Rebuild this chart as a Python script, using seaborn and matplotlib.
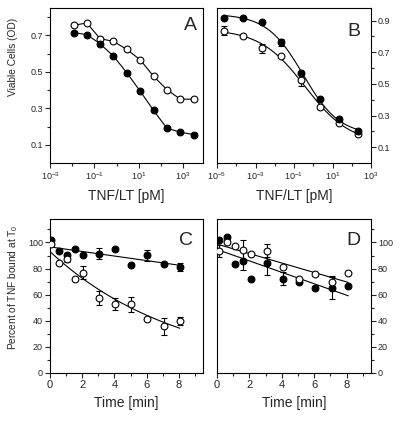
import numpy as np
import pandas as pd
import matplotlib
matplotlib.use("Agg")
import matplotlib.pyplot as plt
import matplotlib.ticker as mticker
import seaborn as sns

sns.set_style("ticks")
plt.rcParams['font.family'] = ['Liberation Sans', 'DejaVu Sans']
plt.rcParams['mathtext.default'] = 'regular'

# ---- panel A : dose response, points joined
conc_a = [0.0115, 0.046, 0.18, 0.73, 2.9, 11.7, 47, 186, 745, 2980]
a_filled = [0.715, 0.704, 0.654, 0.586, 0.495, 0.394, 0.288, 0.191, 0.169, 0.156]
a_open = [0.755, 0.768, 0.682, 0.667, 0.623, 0.566, 0.475, 0.403, 0.350, 0.350]

# ---- panel B : dose response with sigmoid fit
conc_b = [2.2e-5, 2.2e-4, 2.2e-3, 2.2e-2, 0.22, 2.2, 22, 220]
b_filled = [0.917, 0.915, 0.894, 0.762, 0.570, 0.405, 0.277, 0.200]
b_filled_err = [0.0, 0.0, 0.0, 0.02, 0.0, 0.0, 0.0, 0.0]
b_open = [0.836, 0.804, 0.725, 0.676, 0.526, 0.355, 0.255, 0.185]
b_open_err = [0.028, 0.0, 0.028, 0.0, 0.038, 0.0, 0.0, 0.0]

# ---- panel C : TNF bound vs time
time_c = [0.05, 0.55, 1.05, 1.55, 2.05, 3.05, 4.05, 5.05, 6.05, 7.05, 8.05]
c_filled = [102.0, 93.6, 90.2, 94.8, 90.2, 91.5, 94.8, 82.8, 90.2, 83.8, 81.5]
c_filled_err = [0, 0, 2, 0, 0, 4.5, 0, 0, 4, 0, 3]
c_open = [99.2, 84.6, 87.7, 71.8, 76.9, 57.7, 53.1, 52.6, 41.0, 35.9, 39.7]
c_open_err = [0, 0, 3, 0, 5, 5.4, 4.5, 5.6, 0, 6.4, 3]

# ---- panel D
time_d = [0.1, 0.6, 1.08, 1.58, 2.09, 3.08, 4.06, 5.07, 6.05, 7.08, 8.1]
d_filled = [101.8, 104.3, 83.8, 85.8, 72.3, 84.0, 72.3, 69.7, 64.8, 65.4, 66.6]
d_filled_err = [0, 0, 0, 7, 0, 9, 5, 0, 0, 8.5, 0]
d_open = [93.6, 100.0, 97.4, 94.3, 91.0, 93.6, 81.5, 71.8, 75.6, 69.7, 76.9]
d_open_err = [4.5, 0, 0, 7.7, 0, 5, 0, 0, 0, 4.5, 0]

lw = 0.8
ms = 24


def fit_4pl(x, y):
    # small least squares: grid over midpoint/slope, linear solve for top/bottom
    lx = np.log10(x)
    y = np.asarray(y)
    best = None
    for c in np.linspace(-3, 2, 201):
        for h in np.linspace(0.2, 1.5, 131):
            f = 1.0 / (1.0 + 10 ** (h * (lx - c)))
            A = np.column_stack([np.ones_like(f), f])
            coef, *_ = np.linalg.lstsq(A, y, rcond=None)
            err = np.sum((A @ coef - y) ** 2)
            if best is None or err < best[0]:
                best = (err, c, h, coef)
    _, c, h, coef = best
    xs = np.logspace(lx.min(), lx.max(), 200)
    ys = coef[0] + coef[1] / (1.0 + 10 ** (h * (np.log10(xs) - c)))
    return xs, ys


def draw_points(ax, x, y, err, filled):
    if err is not None:
        ax.errorbar(x, y, yerr=err, fmt='none', ecolor='black', elinewidth=lw,
                    capsize=2.2, capthick=lw, zorder=2)
    sns.scatterplot(x=x, y=y, ax=ax, s=ms, marker='o',
                    color='black' if filled else 'white',
                    edgecolor='black', linewidth=lw, zorder=3, legend=False)


def style_axis(ax):
    for sp in ax.spines.values():
        sp.set_visible(True)
        sp.set_linewidth(lw)
        sp.set_color('black')
    ax.tick_params(which='major', length=3.5, width=lw, labelsize=6.5, pad=1.5)
    ax.tick_params(which='minor', length=2, width=lw)


def log_ticks(ax, majors, minors):
    ax.xaxis.set_major_locator(mticker.FixedLocator(majors))
    ax.xaxis.set_minor_locator(mticker.FixedLocator(minors))
    ax.xaxis.set_major_formatter(mticker.FuncFormatter(
        lambda v, p: '$10^{%d}$' % round(np.log10(v))))
    ax.xaxis.set_minor_formatter(mticker.NullFormatter())


fig = plt.figure(figsize=(4, 4.21), dpi=100)
W, H = 400.0, 421.0


def box(x0, x1, y0, y1):
    return [x0 / W, 1 - y1 / H, (x1 - x0) / W, (y1 - y0) / H]


axA = fig.add_axes(box(50, 203, 8, 163))
axB = fig.add_axes(box(217, 371, 8, 163))
axC = fig.add_axes(box(50, 203, 219, 373))
axD = fig.add_axes(box(217, 371, 219, 373))

# A
sns.lineplot(x=conc_a, y=a_open, ax=axA, color='black', lw=lw, zorder=1)
sns.lineplot(x=conc_a, y=a_filled, ax=axA, color='black', lw=lw, zorder=1)
draw_points(axA, conc_a, a_open, None, False)
draw_points(axA, conc_a, a_filled, None, True)
axA.set_xscale('log')
axA.set_xlim(1e-3, 10 ** 3.9)
axA.set_ylim(0, 0.85)
log_ticks(axA, [1e-3, 1e-1, 1e1, 1e3], [1e-2, 1, 1e2])
axA.yaxis.set_major_locator(mticker.FixedLocator([0.1, 0.3, 0.5, 0.7]))
axA.yaxis.set_minor_locator(mticker.FixedLocator([0.2, 0.4, 0.6, 0.8]))
axA.yaxis.set_major_formatter(mticker.FormatStrFormatter('%.1f'))

# B
for yv, ev, filled in [(b_open, b_open_err, False), (b_filled, b_filled_err, True)]:
    xs, ys = fit_4pl(conc_b, yv)
    sns.lineplot(x=xs, y=ys, ax=axB, color='black', lw=lw, zorder=1)
    draw_points(axB, conc_b, yv, ev, filled)
axB.set_xscale('log')
axB.set_xlim(1e-5, 1e3)
axB.set_ylim(0, 0.98)
log_ticks(axB, [1e-5, 1e-3, 1e-1, 1e1, 1e3], [1e-4, 1e-2, 1, 1e2])
axB.yaxis.tick_right()
axB.yaxis.set_major_locator(mticker.FixedLocator([0.1, 0.3, 0.5, 0.7, 0.9]))
axB.yaxis.set_minor_locator(mticker.FixedLocator([0.2, 0.4, 0.6, 0.8]))
axB.yaxis.set_major_formatter(mticker.FormatStrFormatter('%.1f'))

# C
sns.regplot(x=np.array(time_c), y=np.array(c_filled), ax=axC, scatter=False, ci=None,
            line_kws=dict(color='black', lw=lw, zorder=1))
k, a0 = np.polyfit(time_c, np.log(c_open), 1)
tt = np.linspace(min(time_c), max(time_c), 100)
sns.lineplot(x=tt, y=np.exp(a0 + k * tt), ax=axC, color='black', lw=lw, zorder=1)
draw_points(axC, time_c, c_filled, c_filled_err, True)
draw_points(axC, time_c, c_open, c_open_err, False)

# D
for yv in [d_filled, d_open]:
    sns.regplot(x=np.array(time_d), y=np.array(yv), ax=axD, scatter=False, ci=None,
                line_kws=dict(color='black', lw=lw, zorder=1))
draw_points(axD, time_d, d_filled, d_filled_err, True)
draw_points(axD, time_d, d_open, d_open_err, False)
axD.yaxis.tick_right()

for ax in (axC, axD):
    ax.set_xlim(0, 9.5)
    ax.set_ylim(0, 118)
    ax.xaxis.set_major_locator(mticker.FixedLocator([0, 2, 4, 6, 8]))
    ax.xaxis.set_minor_locator(mticker.FixedLocator([1, 3, 5, 7, 9]))
    ax.yaxis.set_major_locator(mticker.FixedLocator([0, 20, 40, 60, 80, 100]))
    ax.yaxis.set_minor_locator(mticker.FixedLocator([10, 30, 50, 70, 90, 110]))

for ax in (axA, axB, axC, axD):
    style_axis(ax)
    ax.set_xlabel('')
    ax.set_ylabel('')

for ax in (axC, axD):
    ax.tick_params(axis='x', labelsize=8)

for ax in (axA, axB):
    ax.set_xlabel('TNF/LT [pM]', fontsize=10)
    ax.xaxis.set_label_coords(0.5, -0.213)
    ax.xaxis.label.set_va('center')
for ax in (axC, axD):
    ax.set_xlabel('Time [min]', fontsize=10)
    ax.xaxis.set_label_coords(0.5, -0.193)
    ax.xaxis.label.set_va('center')

axA.set_ylabel('Viable Cells (OD)', fontsize=7.3)
axA.yaxis.set_label_coords(-0.242, 0.684)
axA.yaxis.label.set_va('center')
axC.set_ylabel('Percent of TNF bound at T$_0$', fontsize=7.3)
axC.yaxis.set_label_coords(-0.242, 0.554)
axC.yaxis.label.set_va('center')

letters = [(axA, 'A', 0.96, 0.945), (axB, 'B', 0.93, 0.905),
           (axC, 'C', 0.935, 0.915), (axD, 'D', 0.93, 0.915)]
for ax, lab, xx, yy in letters:
    ax.text(xx, yy, lab, transform=ax.transAxes, ha='right', va='top', fontsize=14)

fig.savefig('out.png', dpi=100)
